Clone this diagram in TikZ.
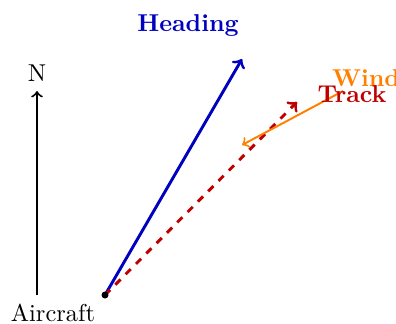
\documentclass[tikz,border=0pt]{standalone}
\begin{document}
\begin{tikzpicture}[x=0.41pt,y=-0.41pt,
  lbl/.style={font=\bfseries},
  vec/.style={very thick,->}]
\useasboundingbox (0,0) rectangle (396,323);
\coordinate (ac) at (105,295);
\coordinate (nbase) at (37,295);
\coordinate (ntip) at (37,91);
\coordinate (htip) at (242,59);
\coordinate (ttip) at (297,102);
\coordinate (wstart) at (343,91);
\coordinate (wtip) at (242,145);
\draw[thick,->] (nbase) -- (ntip);
\node (N) at (37,73) {N};
\node (air) at (53,313) {Aircraft};
\draw[vec,blue!75!black] (ac) -- (htip);
\draw[vec,red!75!black,dashed] (ac) -- (ttip);
\draw[thick,->,orange] (wstart) -- (wtip);
\fill (ac) circle (3.5);
\node[lbl,text=blue!75!black] (hl) at (188,25) {Heading};
\node[lbl,text=orange] (wl) at (366,78) {Wind};
\node[lbl,text=red!75!black] (tl) at (352,94) {Track};
\end{tikzpicture}
\end{document}
